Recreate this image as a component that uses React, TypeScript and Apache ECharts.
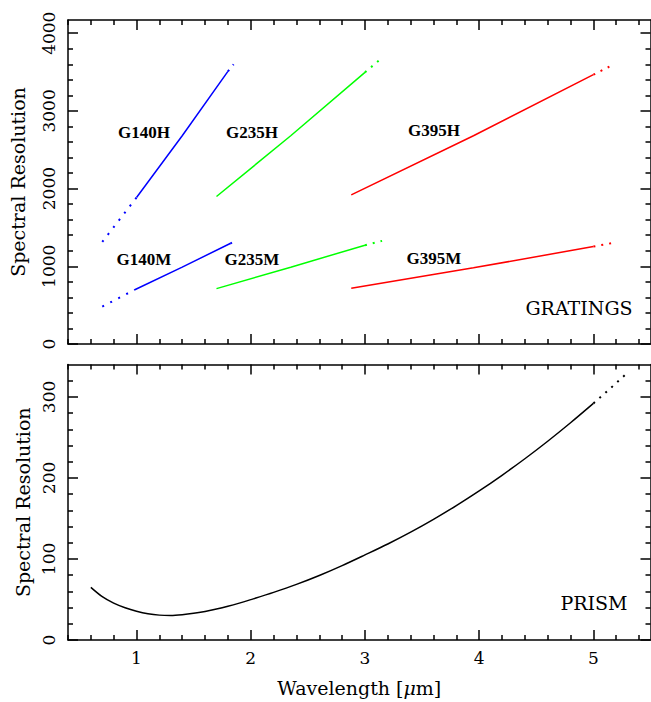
import React, { useEffect, useRef } from "react";
import * as echarts from "echarts";

// ---------- axis ranges & ticks ----------
const X_MIN = 0.4;
const X_MAX = 5.5;
const xMajorTicks = [1, 2, 3, 4, 5];
const xMinorTicks = [0.4, 0.6, 0.8, 1.2, 1.4, 1.6, 1.8, 2.2, 2.4, 2.6, 2.8, 3.2, 3.4, 3.6, 3.8, 4.2, 4.4, 4.6, 4.8, 5.2, 5.4];

const TOP_Y_MAX = 4170;
const topYMajorTicks = [0, 1000, 2000, 3000, 4000];
const topYMinorTicks = [200, 400, 600, 800, 1200, 1400, 1600, 1800, 2200, 2400, 2600, 2800, 3200, 3400, 3600, 3800];

const BOT_Y_MAX = 340;
const botYMajorTicks = [0, 100, 200, 300];
const botYMinorTicks = [20, 40, 60, 80, 120, 140, 160, 180, 220, 240, 260, 280, 320];

// ---------- grating data [wavelength um, R] ----------
const g140hSolid = [[1.0, 1885], [1.4, 2680], [1.8, 3509]];
const g140hDotLow = [[0.7, 1314], [1.0, 1885]];
const g140hDotHigh = [[1.8, 3509], [1.85, 3600]];

const g140mSolid = [[0.98, 695], [1.4, 990], [1.82, 1293]];
const g140mDotLow = [[0.7, 481], [0.98, 695]];
const g140mDotHigh = [[1.82, 1293], [1.88, 1336]];

const g235hSolid = [[1.7, 1898], [2.35, 2680], [3.0, 3496]];
const g235hDotHigh = [[3.0, 3496], [3.12, 3647]];

const g235mSolid = [[1.7, 713], [2.35, 988], [3.0, 1272]];
const g235mDotHigh = [[3.0, 1272], [3.15, 1327]];

const g395hSolid = [[2.88, 1920], [3.95, 2680], [5.0, 3466]];
const g395hDotHigh = [[5.0, 3466], [5.14, 3570]];

const g395mSolid = [[2.88, 718], [3.95, 980], [5.0, 1254]];
const g395mDotHigh = [[5.0, 1254], [5.16, 1298]];

// ---------- prism data ----------
const prismSolid = [
  [0.6, 65], [0.7, 53.5], [0.8, 45.5], [0.9, 39.8], [1.0, 35.5], [1.1, 32.4], [1.2, 30.7],
  [1.3, 30.3], [1.4, 31.2], [1.5, 32.9], [1.6, 35.3], [1.7, 38.2], [1.8, 41.6], [1.9, 45.5],
  [2.0, 49.8], [2.2, 58.8], [2.4, 68.6], [2.6, 79.6], [2.8, 91.8], [3.0, 105], [3.2, 118.5],
  [3.4, 133.1], [3.6, 148.9], [3.8, 165.9], [4.0, 184], [4.2, 203.3], [4.4, 223.7],
  [4.6, 245.3], [4.8, 268.1], [5.0, 292],
];
const prismDotHigh = [[5.0, 292], [5.1, 304.4], [5.2, 317.1], [5.3, 330]];

// ---------- labels ----------
const gratingLabels = [
  { text: "G140H", x: 144, y: 132 },
  { text: "G235H", x: 252, y: 132 },
  { text: "G395H", x: 434, y: 130.5 },
  { text: "G140M", x: 144, y: 259 },
  { text: "G235M", x: 252, y: 259 },
  { text: "G395M", x: 434, y: 258.5 },
];

const BLUE = "#0000ff";
const GREEN = "#00ff00";
const RED = "#ff0000";
const BLACK = "#000000";
const SERIF = "DejaVu Serif";

const AXIS_LW = 1.5;
const MAJOR_LEN = 10;
const MINOR_LEN = 5;

function xAxisDef(gridIndex: number, position: "top" | "bottom", ticks: number[], len: number, line: boolean, extra: any = {}) {
  return {
    type: "value",
    gridIndex,
    position,
    min: X_MIN,
    max: X_MAX,
    axisLine: { show: line, onZero: false, lineStyle: { color: BLACK, width: AXIS_LW } },
    axisTick: { show: true, inside: true, length: len, customValues: ticks, lineStyle: { color: BLACK, width: AXIS_LW } },
    axisLabel: { show: false },
    splitLine: { show: false },
    ...extra,
  };
}

function yAxisDef(gridIndex: number, position: "left" | "right", max: number, ticks: number[], len: number, line: boolean, extra: any = {}) {
  return {
    type: "value",
    gridIndex,
    position,
    min: 0,
    max,
    axisLine: { show: line, onZero: false, lineStyle: { color: BLACK, width: AXIS_LW } },
    axisTick: { show: true, inside: true, length: len, customValues: ticks, lineStyle: { color: BLACK, width: AXIS_LW } },
    axisLabel: { show: false },
    splitLine: { show: false },
    ...extra,
  };
}

function lineSeries(data: number[][], color: string, xi: number, yi: number, dash?: number[], smooth: any = false) {
  return {
    type: "line",
    xAxisIndex: xi,
    yAxisIndex: yi,
    data,
    showSymbol: false,
    symbol: "none",
    smooth,
    lineStyle: { color, width: dash ? 2 : 1.5, type: dash ? dash : "solid", cap: "butt" },
    silent: true,
  };
}

export default function App() {
  const ref = useRef<HTMLDivElement>(null);

  useEffect(() => {
    if (!ref.current) return;
    const chart = echarts.init(ref.current, null, { renderer: "svg" });

    const yLabelStyle = {
      show: true,
      rotate: 90,
      margin: 11,
      color: BLACK,
      fontFamily: SERIF,
      fontSize: 17,
      formatter: (v: number) => String(v),
    };
    const yNameStyle = { color: BLACK, fontFamily: SERIF, fontSize: 19 };

    const DOT_LOW = [2, 7];
    const DOT_HIGH = [2, 6];

    const option: any = {
      animation: false,
      backgroundColor: "#ffffff",
      grid: [
        { left: 68, top: 20, width: 582.5, height: 324 },
        { left: 68, top: 364.5, width: 582.5, height: 275.5 },
      ],
      xAxis: [
        // grid 0
        xAxisDef(0, "bottom", xMajorTicks, MAJOR_LEN, true),
        xAxisDef(0, "bottom", xMinorTicks, MINOR_LEN, false),
        xAxisDef(0, "top", xMajorTicks, MAJOR_LEN, true),
        xAxisDef(0, "top", xMinorTicks, MINOR_LEN, false),
        // grid 1
        xAxisDef(1, "bottom", xMajorTicks, MAJOR_LEN, true, {
          axisLabel: {
            show: true,
            customValues: xMajorTicks,
            margin: 9,
            color: BLACK,
            fontFamily: SERIF,
            fontSize: 17,
            formatter: (v: number) => String(v),
          },
          name: "{a|Wavelength [}{b|μ}{a|m]}",
          nameLocation: "middle",
          nameGap: 38,
          nameTextStyle: {
            rich: {
              a: { fontFamily: SERIF, fontSize: 19, color: BLACK },
              b: { fontFamily: SERIF, fontSize: 19, color: BLACK, fontStyle: "italic" },
            },
          },
        }),
        xAxisDef(1, "bottom", xMinorTicks, MINOR_LEN, false),
        xAxisDef(1, "top", xMajorTicks, MAJOR_LEN, true),
        xAxisDef(1, "top", xMinorTicks, MINOR_LEN, false),
      ],
      yAxis: [
        // grid 0
        yAxisDef(0, "left", TOP_Y_MAX, topYMajorTicks, MAJOR_LEN, true, {
          axisLabel: { ...yLabelStyle, customValues: topYMajorTicks },
          name: "Spectral Resolution",
          nameLocation: "middle",
          nameRotate: 90,
          nameGap: 41,
          nameTextStyle: yNameStyle,
        }),
        yAxisDef(0, "left", TOP_Y_MAX, topYMinorTicks, MINOR_LEN, false),
        yAxisDef(0, "right", TOP_Y_MAX, topYMajorTicks, MAJOR_LEN, true),
        yAxisDef(0, "right", TOP_Y_MAX, topYMinorTicks, MINOR_LEN, false),
        // grid 1
        yAxisDef(1, "left", BOT_Y_MAX, botYMajorTicks, MAJOR_LEN, true, {
          axisLabel: { ...yLabelStyle, customValues: botYMajorTicks },
          name: "Spectral Resolution",
          nameLocation: "middle",
          nameRotate: 90,
          nameGap: 35,
          nameTextStyle: yNameStyle,
        }),
        yAxisDef(1, "left", BOT_Y_MAX, botYMinorTicks, MINOR_LEN, false),
        yAxisDef(1, "right", BOT_Y_MAX, botYMajorTicks, MAJOR_LEN, true),
        yAxisDef(1, "right", BOT_Y_MAX, botYMinorTicks, MINOR_LEN, false),
      ],
      series: [
        lineSeries(g140hSolid, BLUE, 0, 0),
        lineSeries(g140hDotLow, BLUE, 0, 0, DOT_LOW),
        lineSeries(g140hDotHigh, BLUE, 0, 0, DOT_HIGH),
        lineSeries(g140mSolid, BLUE, 0, 0),
        lineSeries(g140mDotLow, BLUE, 0, 0, DOT_LOW),
        lineSeries(g140mDotHigh, BLUE, 0, 0, DOT_HIGH),
        lineSeries(g235hSolid, GREEN, 0, 0),
        lineSeries(g235hDotHigh, GREEN, 0, 0, DOT_HIGH),
        lineSeries(g235mSolid, GREEN, 0, 0),
        lineSeries(g235mDotHigh, GREEN, 0, 0, DOT_HIGH),
        lineSeries(g395hSolid, RED, 0, 0),
        lineSeries(g395hDotHigh, RED, 0, 0, DOT_HIGH),
        lineSeries(g395mSolid, RED, 0, 0),
        lineSeries(g395mDotHigh, RED, 0, 0, DOT_HIGH),
        lineSeries(prismSolid, BLACK, 4, 4, undefined, 0.3),
        lineSeries(prismDotHigh, BLACK, 4, 4, DOT_HIGH),
      ],
      graphic: [
        ...gratingLabels.map((l) => ({
          type: "text",
          x: l.x,
          y: l.y,
          silent: true,
          style: {
            text: l.text,
            fill: BLACK,
            font: `bold 17px "Liberation Serif"`,
            textAlign: "center",
            textVerticalAlign: "middle",
          },
        })),
        {
          type: "text",
          x: 579,
          y: 308,
          silent: true,
          style: { text: "GRATINGS", fill: BLACK, font: `19px "${SERIF}"`, textAlign: "center", textVerticalAlign: "middle" },
        },
        {
          type: "text",
          x: 594,
          y: 602.5,
          silent: true,
          style: { text: "PRISM", fill: BLACK, font: `19px "${SERIF}"`, textAlign: "center", textVerticalAlign: "middle" },
        },
      ],
    };

    chart.setOption(option);
    return () => chart.dispose();
  }, []);

  return (
    <div
      ref={ref}
      style={{ position: "absolute", left: 0, top: 0, width: 651, height: 702, background: "#fff" }}
    />
  );
}
